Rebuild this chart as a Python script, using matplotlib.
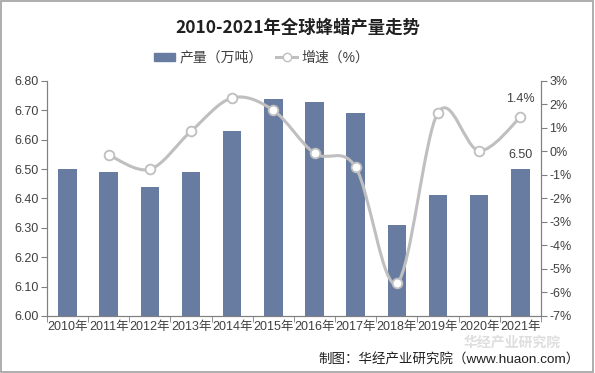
import numpy as np
import matplotlib
matplotlib.use("Agg")
import matplotlib.pyplot as plt
from matplotlib.path import Path
from matplotlib.patches import PathPatch, Rectangle
from matplotlib.lines import Line2D
from matplotlib.ticker import FixedLocator, FuncFormatter

plt.rcParams['font.family'] = ['Liberation Sans', 'Noto Sans CJK SC']

# ---------------- data ----------------
years = ["2010年", "2011年", "2012年", "2013年", "2014年", "2015年",
         "2016年", "2017年", "2018年", "2019年", "2020年", "2021年"]
output = [6.50, 6.49, 6.44, 6.49, 6.63, 6.74, 6.73, 6.69, 6.31, 6.41, 6.41, 6.50]
growth = [None, -0.15, -0.76, 0.86, 2.28, 1.75, -0.08, -0.67, -5.61, 1.65, 0.03, 1.45]

bar_color = '#687BA1'
line_color = '#BFBFBF'
text_color = '#404040'


def smooth_path(xs, ys):
    # Catmull-Rom style bezier, similar to Excel's smoothed line
    verts = [(xs[0], ys[0])]
    codes = [Path.MOVETO]
    n = len(xs)
    for i in range(n - 1):
        x0, y0 = (xs[i - 1], ys[i - 1]) if i > 0 else (xs[i], ys[i])
        x1, y1 = xs[i], ys[i]
        x2, y2 = xs[i + 1], ys[i + 1]
        x3, y3 = (xs[i + 2], ys[i + 2]) if i + 2 < n else (x2, y2)
        c1 = (x1 + (x2 - x0) / 6, y1 + (y2 - y0) / 6)
        c2 = (x2 - (x3 - x1) / 6, y2 - (y3 - y1) / 6)
        verts += [c1, c2, (x2, y2)]
        codes += [Path.CURVE4] * 3
    return Path(verts, codes)


fig = plt.figure(figsize=(5.95, 3.73), dpi=100)
ax = fig.add_axes([0.079, 0.153, 0.830, 0.630])
ax2 = ax.twinx()

x = np.arange(len(years))
ax.bar(x, output, width=0.45, color=bar_color, zorder=2)
ax.set_ylim(6.0, 6.8)
ax.set_xlim(-0.5, len(years) - 0.5)
ax.set_yticks(np.arange(6.0, 6.81, 0.1))
ax.yaxis.set_major_formatter(FuncFormatter(lambda v, p: f"{v:.2f}"))
ax.set_xticks(x)
ax.set_xticklabels(years)
ax.xaxis.set_minor_locator(FixedLocator(np.arange(-0.5, len(years), 1)))
ax.tick_params(axis='x', which='major', length=0, pad=4, labelsize=9, colors=text_color)
ax.tick_params(axis='x', which='minor', length=4, color='#808080')
ax.tick_params(axis='y', length=4, color='#808080', labelsize=9, colors=text_color, pad=2)

for sp in ['top']:
    ax.spines[sp].set_visible(False)
    ax2.spines[sp].set_visible(False)
for a in (ax, ax2):
    for sp in ['left', 'right', 'bottom']:
        a.spines[sp].set_color('#808080')
        a.spines[sp].set_linewidth(0.8)

gx = [i for i, g in enumerate(growth) if g is not None]
gy = [g for g in growth if g is not None]
ax2.set_ylim(-7, 3)
ax2.set_yticks(np.arange(-7, 3.1, 1))
ax2.yaxis.set_major_formatter(FuncFormatter(lambda v, p: f"{v:.0f}%"))
ax2.tick_params(axis='y', length=4, color='#808080', labelsize=9, colors=text_color, pad=2)
ax2.add_patch(PathPatch(smooth_path(gx, gy), facecolor='none', edgecolor=line_color,
                        lw=2.2, zorder=3))
ax2.plot(gx, gy, linestyle='none', marker='o', ms=7, mfc='white', mec=line_color,
         mew=1.3, zorder=4)

ax.annotate(f"{output[-1]:.2f}", (x[-1], output[-1]), xytext=(0, 6), textcoords='offset points',
            ha='center', va='bottom', fontsize=9, color=text_color)
ax2.annotate("1.4%", (gx[-1], gy[-1]), xytext=(0, 9), textcoords='offset points',
             ha='center', va='bottom', fontsize=9, color=text_color)

# title & legend
fig.text(0.5, 0.925, "2010-2021年全球蜂蜡产量走势", ha='center', va='center',
         fontsize=12.5, fontweight='bold', color='#202020',
         family=['Noto Sans CJK SC'])
handles = [Rectangle((0, 0), 1, 1, color=bar_color),
           Line2D([], [], color=line_color, lw=2.2, marker='o', ms=6,
                  mfc='white', mec=line_color)]
fig.legend(handles, ["产量（万吨）", "增速（%）"], loc='center', ncol=2,
           bbox_to_anchor=(0.44, 0.845), frameon=False, fontsize=10,
           handlelength=1.5, handleheight=0.6, columnspacing=1.0, handletextpad=0.3,
           labelcolor=text_color)

# watermark and source
fig.text(0.86, 0.082, "华经产业研究院", ha='center', va='center', fontsize=10,
         color='#C8C8C8', alpha=0.6, fontweight='bold', family=['Noto Sans CJK SC'])
fig.text(0.975, 0.035, "制图：华经产业研究院（www.huaon.com）", ha='right', va='center',
         fontsize=9.7, color='#202020')

fig.patches.append(Rectangle((0.002, 0.003), 0.995, 0.993, transform=fig.transFigure,
                             fill=False, edgecolor='#A0A0A0', lw=1.2))

fig.savefig("out.png", dpi=100)
